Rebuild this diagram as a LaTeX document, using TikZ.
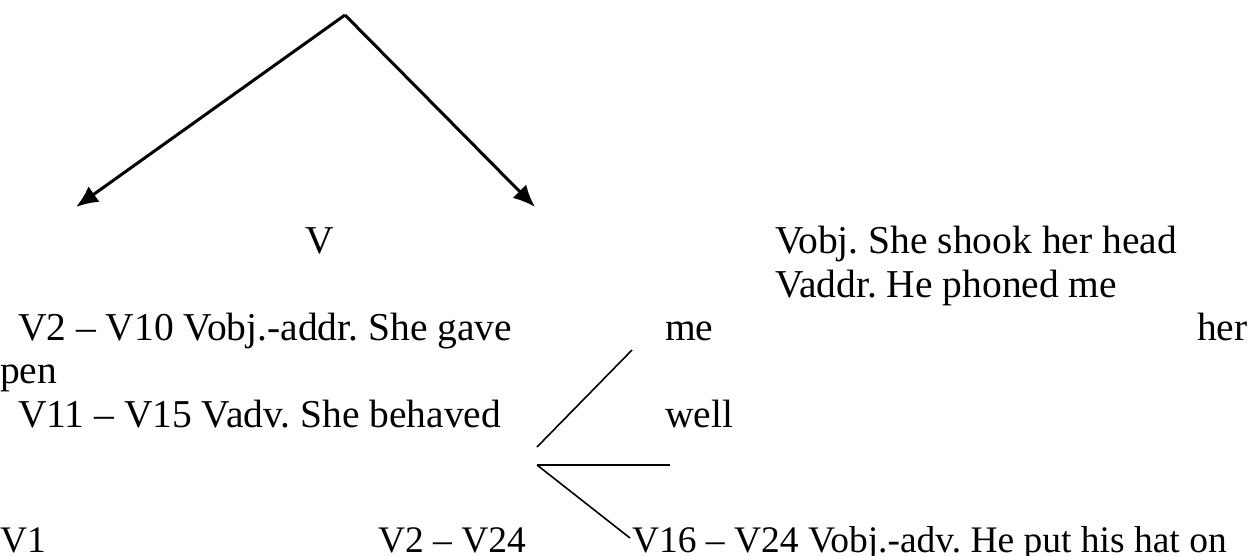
\documentclass[tikz,border=0pt]{standalone}
\usepackage{fontspec}
\setmainfont{Liberation Serif}
\usetikzlibrary{arrows.meta}
\frenchspacing
\begin{document}
\begin{tikzpicture}[x=1pt,y=-1pt,
  lbl/.style={anchor=base west,inner sep=0pt,outer sep=0pt,font=\fontsize{39.5}{46}\selectfont},
  lblb/.style={lbl,font=\fontsize{37.5}{44}\selectfont},
  arr/.style={line width=3pt,-{Latex[length=22pt,width=19pt]}},
  ln/.style={line width=1.6pt}]
\useasboundingbox (0,0) rectangle (1260,555);
% arrows
\coordinate (apex) at (345,15);
\coordinate (ltip) at (76,207);
\coordinate (rtip) at (535,207);
\draw[arr] (apex) -- (ltip);
\draw[arr] (apex) -- (rtip);
% texts
\node[lbl] (v) at (305,253) {V};
\node[lbl] (vobj) at (775,253) {Vobj. She shook her head};
\node[lbl] (vaddr) at (775,297) {Vaddr. He phoned me};
\node[lbl] (l1) at (18,340) {V2 – V10 Vobj.-addr. She gave};
\node[lbl] (me) at (665,340) {me};
\node[lbl] (her) at (1197,340) {her};
\node[lbl] (pen) at (0,383) {pen};
\node[lbl] (l2) at (18,427) {V11 – V15 Vadv. She behaved};
\node[lbl] (well) at (665,427) {well};
\node[lblb] (v1) at (0,552) {V1};
\node[lblb] (v224) at (378,552) {V2 – V24};
\node[lblb] (v1624) at (632,552) {V16 – V24 Vobj.-adv. He put his hat on};
% branching lines
\coordinate (b1) at (537,447);
\coordinate (b2) at (537,465);
\coordinate (e1) at (632,350);
\coordinate (e2) at (670,465);
\coordinate (e3) at (630,538);
\draw[ln] (b1) -- (e1);
\draw[ln] (b2) -- (e2);
\draw[ln] (b2) -- (e3);
\end{tikzpicture}
\end{document}
